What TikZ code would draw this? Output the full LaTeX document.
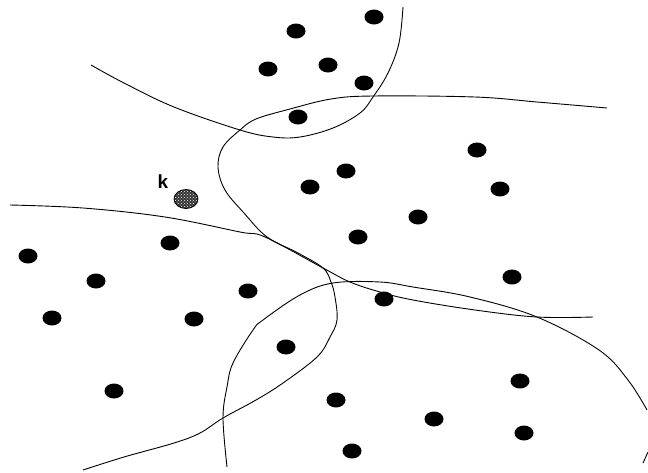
\documentclass[tikz,border=0pt]{standalone}
\usepackage{fontspec}
\setsansfont{Liberation Sans}
\usetikzlibrary{shapes.geometric,patterns}
\begin{document}
\begin{tikzpicture}[x=1pt,y=-1pt,
  dot/.style={ellipse,fill=black,draw=none,inner sep=0pt,minimum width=19pt,minimum height=15pt},
  kdot/.style={ellipse,preaction={fill=black!80},pattern=crosshatch dots,pattern color=white,draw=black,line width=0.8pt,inner sep=0pt,minimum width=24pt,minimum height=19pt},
  border/.style={line width=0.9pt,black}]
\useasboundingbox (0,0) rectangle (648,472);
% top group
\node[dot] (t1) at (296,31) {};
\node[dot] (t2) at (374,17) {};
\node[dot] (t3) at (268,69) {};
\node[dot] (t4) at (328,65) {};
\node[dot] (t5) at (364,83) {};
\node[dot] (t6) at (298,117) {};
% right group
\node[dot] (r1) at (477,150) {};
\node[dot] (r2) at (346,171) {};
\node[dot] (r3) at (310,187) {};
\node[dot] (r4) at (500,189) {};
\node[dot] (r5) at (418,217) {};
\node[dot] (r6) at (358,237) {};
\node[dot] (r7) at (512,277) {};
% left group
\node[dot] (l1) at (28,256) {};
\node[dot] (l2) at (170,243) {};
\node[dot] (l3) at (96,281) {};
\node[dot] (l4) at (248,291) {};
\node[dot] (l5) at (52,318) {};
\node[dot] (l6) at (194,319) {};
\node[dot] (l7) at (114,391) {};
% bottom group
\node[dot] (b1) at (384,299) {};
\node[dot] (b2) at (286,347) {};
\node[dot] (b3) at (520,381) {};
\node[dot] (b4) at (336,400) {};
\node[dot] (b5) at (434,419) {};
\node[dot] (b6) at (524,433) {};
\node[dot] (b7) at (352,451) {};
% query point
\node[kdot] (k) at (186,199) {};
\node[font=\sffamily\bfseries\fontsize{19}{19}\selectfont,inner sep=0pt] (klabel) at (163,182) {k};
% boundaries
\draw[border] plot[smooth,tension=0.6] coordinates {(91,65) (124,83) (174,107) (240,130) (273,137) (300,137) (333,128) (360,113) (373,97) (388,73) (399,43) (403,7)};
\draw[border] plot[smooth,tension=0.6] coordinates {(607,108) (537,102) (475,97) (373,96) (331,99) (290,109) (256,119) (240,130) (223,147) (218,167) (225,190) (244,213) (267,237) (298,253) (323,268) (331,282) (335,297) (337,320) (330,337) (317,357) (283,383) (256,400) (223,418) (200,433) (174,443) (124,457) (83,470)};
\draw[border] plot[smooth,tension=0.6] coordinates {(10,205) (83,208) (165,217) (240,232) (265,237) (323,268) (350,282) (380,292) (413,300) (475,310) (537,317) (593,317)};
\draw[border] plot[smooth,tension=0.6] coordinates {(227,467) (223,418) (227,387) (233,363) (253,330) (263,320) (300,295) (333,283) (380,282) (413,287) (470,297) (537,317) (599,350) (628,380) (647,410)};
\draw[border] (643,463) -- (648,452);
\end{tikzpicture}
\end{document}
